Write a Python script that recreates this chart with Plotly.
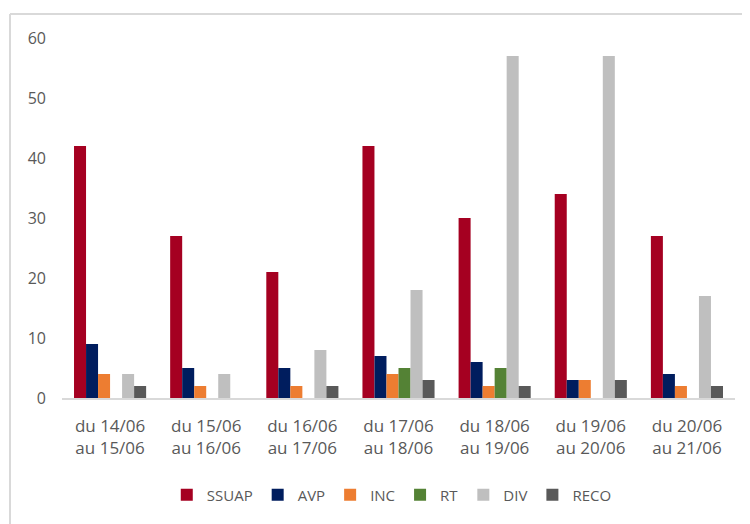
import plotly.graph_objects as go

categories = ["du 14/06<br>au 15/06", "du 15/06<br>au 16/06", "du 16/06<br>au 17/06",
              "du 17/06<br>au 18/06", "du 18/06<br>au 19/06", "du 19/06<br>au 20/06",
              "du 20/06<br>au 21/06"]
ssuap = [42, 27, 21, 42, 30, 34, 27]
avp = [9, 5, 5, 7, 6, 3, 4]
inc = [4, 2, 2, 4, 2, 3, 2]
rt = [0, 0, 0, 5, 5, 0, 0]
div = [4, 4, 8, 18, 57, 57, 17]
reco = [2, 0, 2, 3, 2, 3, 2]

series = [
    ("SSUAP", ssuap, "#A50021"),
    ("AVP", avp, "#001D5E"),
    ("INC", inc, "#ED7D31"),
    ("RT", rt, "#548235"),
    ("DIV", div, "#BFBFBF"),
    ("RECO", reco, "#595959"),
]

fig = go.Figure()
for name, vals, col in series:
    fig.add_trace(go.Bar(x=categories, y=vals, name=name, marker_color=col,
                         marker_line_width=0))

# page body has an 8px margin, so target positions are shifted by 8px
OFF = 8
W, H = 750, 524
l, r, t, b = 62 - OFF, W - (735 - OFF), 38 - OFF, H - (398 - OFF)
pw = W - l - r
ph = H - t - b

def px_x(x):
    return (x - OFF - l) / pw

def px_y(y):
    return (H - b - (y - OFF)) / ph

fig.update_layout(
    width=W, height=H,
    margin=dict(l=l, r=r, t=t, b=b),
    paper_bgcolor="white", plot_bgcolor="white",
    barmode="group", bargap=0.25, bargroupgap=0,
    font=dict(family="Open Sans, Liberation Sans, sans-serif", color="#595959", size=16),
    legend=dict(orientation="h", x=0.49, xanchor="center", y=px_y(495), yanchor="middle",
                font=dict(size=15, color="#595959"), itemwidth=30, traceorder="normal"),
    xaxis=dict(showgrid=False, showline=True, linecolor="#D9D9D9", linewidth=1.5,
               ticks="", tickfont=dict(size=17, color="#595959"), ticklabelstandoff=12),
    yaxis=dict(range=[0, 60], dtick=10, showgrid=False, showline=False, zeroline=False,
               ticks="", tickfont=dict(size=16, color="#595959"), ticklabelstandoff=15),
    shapes=[
        dict(type="line", xref="paper", yref="paper", x0=px_x(10), x1=px_x(10),
             y0=px_y(H + OFF), y1=px_y(14), line=dict(color="#D9D9D9", width=2)),
        dict(type="line", xref="paper", yref="paper", x0=px_x(10), x1=px_x(W + OFF),
             y0=px_y(14), y1=px_y(14), line=dict(color="#D9D9D9", width=2)),
    ],
)

fig.write_html("out.html")
